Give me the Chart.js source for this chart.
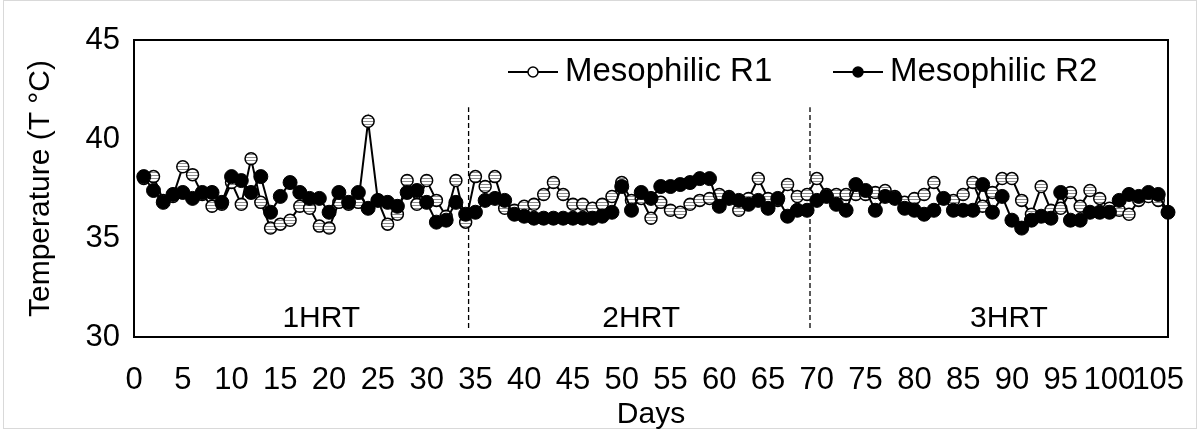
<!DOCTYPE html>
<html>
<head>
<meta charset="utf-8">
<script src="https://cdn.jsdelivr.net/npm/chart.js@4.4.1/dist/chart.umd.min.js"></script>
<style>
  html, body { margin: 0; padding: 0; background: #fff; }
</style>
</head>
<body>
<canvas id="MyChart1" width="1200" height="430"></canvas>
<script>
// days of operation
var days = [
  1, 2, 3, 4, 5, 6, 7, 8, 9, 10, 11, 12, 13, 14, 15, 16, 17, 18, 19, 20,
  21, 22, 23, 24, 25, 26, 27, 28, 29, 30, 31, 32, 33, 34, 35, 36, 37, 38, 39, 40,
  41, 42, 43, 44, 45, 46, 47, 48, 49, 50, 51, 52, 53, 54, 55, 56, 57, 58, 59, 60,
  61, 62, 63, 64, 65, 66, 67, 68, 69, 70, 71, 72, 73, 74, 75, 76, 77, 78, 79, 80,
  81, 82, 83, 84, 85, 86, 87, 88, 89, 90, 91, 92, 93, 94, 95, 96, 97, 98, 99, 100,
  101, 102, 103, 104, 105, 106
];

var r1Temp = [
  38.0, 38.1, 36.9, 37.1, 38.6, 38.2, 37.2, 36.6, 36.7, 37.8,
  36.7, 39.0, 36.8, 35.5, 35.7, 35.9, 36.6, 36.5, 35.6, 35.5,
  36.8, 36.7, 36.8, 40.9, 36.9, 35.7, 36.2, 37.9, 36.7, 37.9,
  36.9, 36.1, 37.9, 35.8, 38.1, 37.6, 38.1, 36.5, 36.4, 36.6,
  36.7, 37.2, 37.8, 37.2, 36.7, 36.7, 36.5, 36.7, 37.1, 37.8,
  36.9, 37.0, 36.0, 36.8, 36.4, 36.3, 36.7, 36.9, 37.0, 37.2,
  37.1, 36.4, 37.0, 38.0, 37.0, 36.9, 37.7, 37.1, 37.2, 38.0,
  37.2, 37.2, 37.2, 37.2, 37.2, 37.3, 37.4, 37.1, 36.8, 37.0,
  37.2, 37.8, 37.0, 36.9, 37.2, 37.8, 36.6, 37.3, 38.0, 38.0,
  36.9, 36.2, 37.6, 36.4, 36.5, 37.3, 36.6, 37.4, 37.0, 36.5,
  36.4, 36.2, 36.9, 37.1, 36.9, 36.3
];

var r2Temp = [
  38.1, 37.4, 36.8, 37.2, 37.3, 37.0, 37.3, 37.3, 36.8, 38.1,
  37.9, 37.3, 38.1, 36.3, 37.1, 37.8, 37.3, 37.0, 37.0, 36.3,
  37.3, 36.8, 37.3, 36.5, 36.9, 36.8, 36.6, 37.3, 37.4, 36.8,
  35.8, 35.9, 36.8, 36.2, 36.3, 36.9, 37.0, 36.9, 36.2, 36.1,
  36.0, 36.0, 36.0, 36.0, 36.0, 36.0, 36.0, 36.1, 36.3, 37.6,
  36.4, 37.3, 37.0, 37.6, 37.6, 37.7, 37.8, 38.0, 38.0, 36.6,
  37.0, 36.9, 36.7, 36.9, 36.5, 37.0, 36.1, 36.4, 36.4, 36.9,
  37.1, 36.7, 36.4, 37.7, 37.4, 36.4, 37.1, 37.0, 36.5, 36.4,
  36.2, 36.4, 37.0, 36.4, 36.4, 36.4, 37.7, 36.3, 37.1, 35.9,
  35.5, 35.9, 36.1, 36.0, 37.3, 35.9, 35.9, 36.3, 36.3, 36.3,
  36.9, 37.2, 37.1, 37.3, 37.2, 36.3
];

var xTicks = [0, 5, 10, 15, 20, 25, 30, 35, 40, 45, 50, 55, 60, 65, 70, 75, 80, 85, 90, 95, 100, 105];
var yTicks = [30, 35, 40, 45];

// HRT boundaries and labels
var hrtLines  = [34.3, 69.3];
var hrtNames  = ['1HRT', '2HRT', '3HRT'];
var hrtLabelX = [19.2, 52.0, 89.7];

var legendNames = ['Mesophilic R1', 'Mesophilic R2'];

var fontFamily = "'Liberation Sans', Arial, sans-serif";
var tickFont  = { family: fontFamily, size: 31 };
var titleFont = { family: fontFamily, size: 30, lineHeight: 1 };

// striped fill for the open markers
var stripe = document.createElement('canvas');
stripe.width = 1; stripe.height = 3;
var sctx = stripe.getContext('2d');
sctx.fillStyle = '#fff'; sctx.fillRect(0, 0, 1, 3);
sctx.fillStyle = '#8c8c8c'; sctx.fillRect(0, 1, 1, 1);

var chart = document.getElementById('MyChart1').getContext('2d');
var stripeFill = chart.createPattern(stripe, 'repeat');

function pts(xs, ys) {
  return xs.map(function (x, i) { return { x: x, y: ys[i] }; });
}

var frame = {
  id: 'frame',
  beforeDraw: function (c) {
    var ctx = c.ctx;
    ctx.save();
    ctx.fillStyle = '#fff';
    ctx.fillRect(0, 0, c.width, c.height);
    ctx.strokeStyle = '#d9d9d9';
    ctx.lineWidth = 1;
    ctx.strokeRect(3.5, 0.5, 1193, 428);
    ctx.restore();
  },
  afterDatasetsDraw: function (c) {
    var ctx = c.ctx, a = c.chartArea, x = c.scales.x, y = c.scales.y;
    ctx.save();
    ctx.strokeStyle = '#000';
    ctx.lineWidth = 2;
    ctx.strokeRect(a.left, a.top, a.right - a.left, a.bottom - a.top);

    // period labels
    ctx.fillStyle = '#000';
    ctx.font = '30px ' + fontFamily;
    ctx.textAlign = 'center';
    ctx.textBaseline = 'middle';
    hrtNames.forEach(function (t, i) {
      ctx.fillText(t, x.getPixelForValue(hrtLabelX[i]), y.getPixelForValue(30.9));
    });

    // legend, excel style (line through marker)
    var items = [
      { x0: 508, text: legendNames[0], fill: '#fff' },
      { x0: 833, text: legendNames[1], fill: '#000' }
    ];
    var ly = 72;
    ctx.font = '33px ' + fontFamily;
    items.forEach(function (it) {
      ctx.beginPath();
      ctx.moveTo(it.x0, ly);
      ctx.lineTo(it.x0 + 50, ly);
      ctx.lineWidth = 2;
      ctx.stroke();
      ctx.beginPath();
      ctx.arc(it.x0 + 25, ly, 5, 0, Math.PI * 2);
      ctx.fillStyle = it.fill;
      ctx.fill();
      ctx.lineWidth = 1.5;
      ctx.stroke();
      ctx.fillStyle = '#000';
      ctx.textAlign = 'left';
      ctx.fillText(it.text, it.x0 + 57, ly);
    });
    ctx.restore();
  }
};

var data = {
  datasets: [
    {
      label: legendNames[0],
      data: pts(days, r1Temp),
      borderColor: '#000',
      borderWidth: 2,
      pointRadius: 6,
      pointBorderWidth: 1.5,
      pointBorderColor: '#000',
      pointBackgroundColor: stripeFill,
      tension: 0,
      clip: false,
      order: 1
    },
    {
      label: legendNames[1],
      data: pts(days, r2Temp),
      borderColor: '#000',
      borderWidth: 2,
      pointRadius: 7,
      pointBorderWidth: 1,
      pointBorderColor: '#000',
      pointBackgroundColor: '#000',
      tension: 0,
      clip: false,
      order: 0
    },
    {
      label: 'hrt1',
      data: [{ x: hrtLines[0], y: 30.45 }, { x: hrtLines[0], y: 41.6 }],
      borderColor: '#000',
      borderWidth: 1.3,
      borderDash: [5, 3],
      pointRadius: 0,
      order: 2
    },
    {
      label: 'hrt2',
      data: [{ x: hrtLines[1], y: 30.45 }, { x: hrtLines[1], y: 41.6 }],
      borderColor: '#000',
      borderWidth: 1.3,
      borderDash: [5, 3],
      pointRadius: 0,
      order: 2
    }
  ]
};

var options = {
  responsive: false,
  animation: false,
  devicePixelRatio: 1,
  layout: { padding: { top: 40, right: 32, left: 0, bottom: 0 } },
  plugins: {
    legend: { display: false },
    tooltip: { enabled: false }
  },
  scales: {
    x: {
      type: 'linear',
      min: 0,
      max: 106,
      afterBuildTicks: function (s) { s.ticks = xTicks.map(function (v) { return { value: v }; }); },
      afterFit: function (s) { s.height = 93; s.paddingLeft = 0; s.paddingRight = 0; },
      grid: { display: false, drawTicks: false },
      border: { display: false },
      ticks: { color: '#000', font: tickFont, padding: 25, autoSkip: false, maxRotation: 0 },
      title: { display: true, text: 'Days', color: '#000', font: titleFont, padding: { top: 0, bottom: 0 } }
    },
    y: {
      min: 30,
      max: 45,
      afterBuildTicks: function (s) { s.ticks = yTicks.map(function (v) { return { value: v }; }); },
      afterFit: function (s) { s.width = 134; s.paddingTop = 0; s.paddingBottom = 0; },
      grid: { display: false, drawTicks: false },
      border: { display: false },
      ticks: { color: '#000', font: tickFont, padding: 14 },
      title: { display: true, text: 'Temperature (T °C)', color: '#000', font: titleFont, padding: { top: 26, bottom: 0 } }
    }
  }
};

var chartInstance = new Chart(chart, {
  type: 'line',
  data: data,
  options: options,
  plugins: [frame]
});
</script>
</body>
</html>
